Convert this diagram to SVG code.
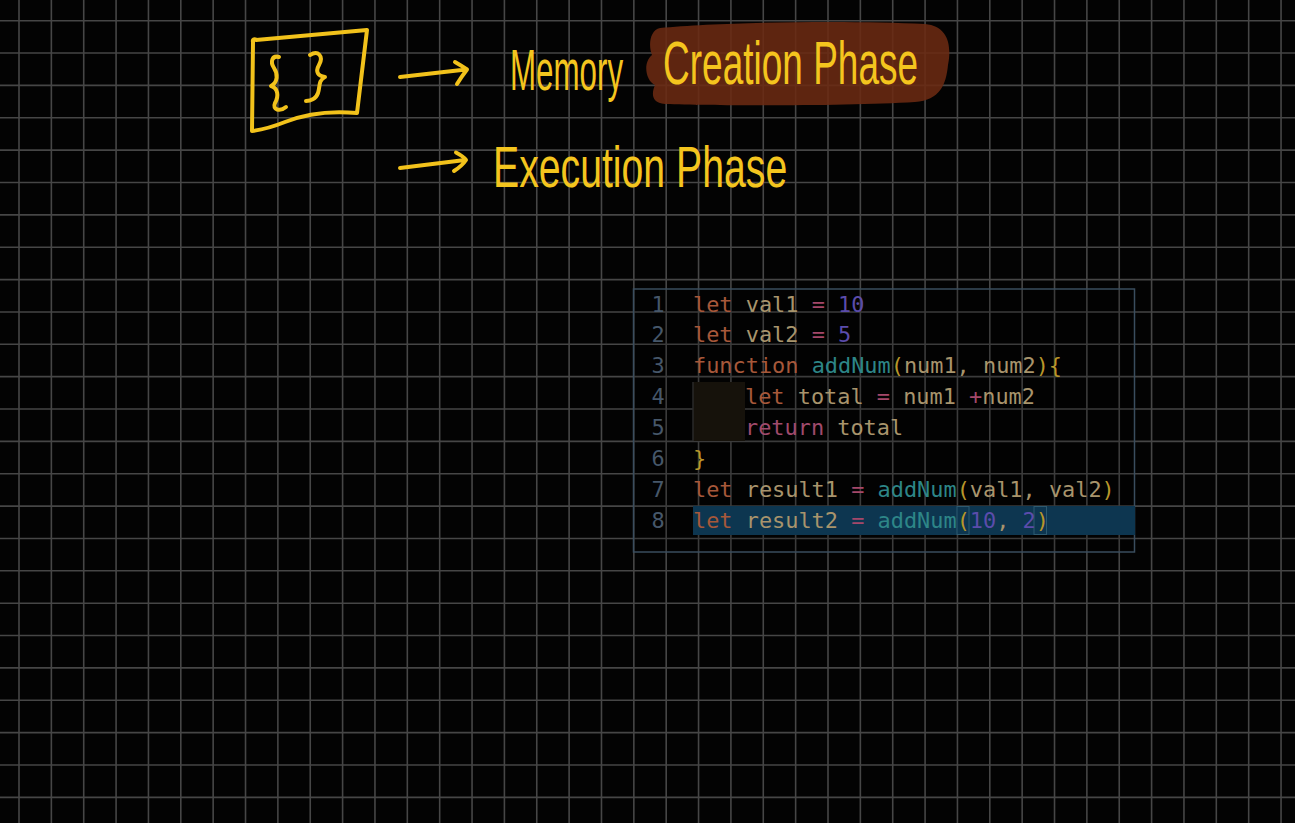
<svg xmlns="http://www.w3.org/2000/svg" width="1295" height="823" viewBox="0 0 1295 823">
<style>
.grid{stroke:#464646;stroke-width:1.6;fill:none}
.ink{stroke:#f2c21b;stroke-width:4;fill:none;stroke-linecap:round;stroke-linejoin:round}
.hand{font-family:"Liberation Sans",Arial,sans-serif;fill:#f4c51e}
.code{font-family:"DejaVu Sans Mono","Liberation Mono",monospace;font-size:21.9px;fill:#a8946c}
.ln{font-family:"DejaVu Sans Mono","Liberation Mono",monospace;font-size:21.9px;fill:#46576a;text-anchor:middle}
.kw{fill:#a6583a}
.op{fill:#a4486a}
.num{fill:#5b4cab}
.fn{fill:#2d8688}
.br{fill:#b8962a}
.ret{fill:#a04a6c}
</style>
<rect x="0" y="0" width="1295" height="823" fill="#030303"/>
<g id="grid">
<path class="grid" d="M19 0V823M51.36 0V823M83.72 0V823M116.08 0V823M148.44 0V823M180.8 0V823M213.16 0V823M245.52 0V823M277.88 0V823M310.24 0V823M342.6 0V823M374.96 0V823M407.32 0V823M439.68 0V823M472.04 0V823M504.4 0V823M536.76 0V823M569.12 0V823M601.48 0V823M633.84 0V823M666.2 0V823M698.56 0V823M730.92 0V823M763.28 0V823M795.64 0V823M828 0V823M860.36 0V823M892.72 0V823M925.08 0V823M957.44 0V823M989.8 0V823M1022.16 0V823M1054.52 0V823M1086.88 0V823M1119.24 0V823M1151.6 0V823M1183.96 0V823M1216.32 0V823M1248.68 0V823M1281.04 0V823"/>
<path class="grid" d="M0 20.7H1295M0 53.06H1295M0 85.42H1295M0 117.78H1295M0 150.14H1295M0 182.5H1295M0 214.86H1295M0 247.22H1295M0 279.58H1295M0 311.94H1295M0 344.3H1295M0 376.66H1295M0 409.02H1295M0 441.38H1295M0 473.74H1295M0 506.1H1295M0 538.46H1295M0 570.82H1295M0 603.18H1295M0 635.54H1295M0 667.9H1295M0 700.26H1295M0 732.62H1295M0 764.98H1295M0 797.34H1295"/>
</g>
<g id="scope-box">
<path class="ink" d="M256 40 L367 30 L357 113 C325 110 300 116 285 122 C270 128 260 130 252 131 L253 42 Q252 38 257 40"/>
<path class="ink" d="M279 57 C272 55 270 62 274 68 C278 74 278 82 271 86 C278 88 279 96 275 103 C272 110 280 112 286 107"/>
<path class="ink" d="M310 55 C318 50 324 56 319 65 C315 72 318 76 325 77 C318 80 320 88 318 93 C316 99 310 101 306 101"/>
</g>
<g id="connectors">
<path class="ink" d="M400 77 L466 69.5 M455 62 Q462 66 467 69.5 Q462 76 457 84"/>
<path class="ink" d="M400 168 L465 160 M456 152.5 Q463 156 466 160 Q462 166 454 171"/>
</g>
<g id="memory-creation">
<path d="M660 28 C720 22 850 20 925 24 C948 26 952 45 948 65 C946 85 940 100 915 102 C850 106 720 106 665 104 C650 103 652 92 655 85 C645 80 643 62 652 55 C648 45 650 30 660 28 Z" fill="#6b2a12" fill-opacity="0.88"/>
<text class="hand" font-size="58" transform="translate(510 90) scale(0.54 1)">Memory</text>
<text class="hand" font-size="62" transform="translate(663 84) scale(0.597 1)">Creation Phase</text>
</g>
<g id="execution">
<text class="hand" font-size="58" transform="translate(493 187) scale(0.676 1)">Execution Phase</text>
</g>
<g id="code-panel">
<rect x="633.5" y="289" width="501" height="263" fill="#000" fill-opacity="0.15" stroke="#3a4d5e" stroke-width="1.5"/>
<rect x="693" y="382" width="52" height="59" fill="#16120b"/>
<line x1="693" y1="382" x2="693" y2="441" stroke="#2a2a2a" stroke-width="1.5"/>
<rect x="693" y="506" width="442" height="29" fill="#0d3650"/>
<rect x="957" y="506.5" width="12" height="28" fill="none" stroke="#2d5a70" stroke-width="1"/>
<rect x="1034" y="506.5" width="12.5" height="28" fill="none" stroke="#2d5a70" stroke-width="1"/>
<text class="ln" x="658" y="311.5">1</text>
<text class="ln" x="658" y="342.4">2</text>
<text class="ln" x="658" y="373.3">3</text>
<text class="ln" x="658" y="404.2">4</text>
<text class="ln" x="658" y="435.1">5</text>
<text class="ln" x="658" y="466">6</text>
<text class="ln" x="658" y="496.9">7</text>
<text class="ln" x="658" y="527.8" fill="#7a8c9c">8</text>
<text class="code" x="693" y="311.5" xml:space="preserve"><tspan class="kw">let</tspan> val1 <tspan class="op">=</tspan> <tspan class="num">10</tspan></text>
<text class="code" x="693" y="342.4" xml:space="preserve"><tspan class="kw">let</tspan> val2 <tspan class="op">=</tspan> <tspan class="num">5</tspan></text>
<text class="code" x="693" y="373.3" xml:space="preserve"><tspan class="kw">function</tspan> <tspan class="fn">addNum</tspan><tspan class="br">(</tspan>num1, num2<tspan class="br">){</tspan></text>
<text class="code" x="745" y="404.2" xml:space="preserve"><tspan class="kw">let</tspan> total <tspan class="op">=</tspan> num1 <tspan class="op">+</tspan>num2</text>
<text class="code" x="745" y="435.1" xml:space="preserve"><tspan class="ret">return</tspan> total</text>
<text class="code" x="693" y="466"><tspan class="br">}</tspan></text>
<text class="code" x="693" y="496.9" xml:space="preserve"><tspan class="kw">let</tspan> result1 <tspan class="op">=</tspan> <tspan class="fn">addNum</tspan><tspan class="br">(</tspan>val1, val2<tspan class="br">)</tspan></text>
<text class="code" x="693" y="527.8" xml:space="preserve"><tspan class="kw">let</tspan> result2 <tspan class="op">=</tspan> <tspan class="fn">addNum</tspan><tspan class="br">(</tspan><tspan class="num">10</tspan>, <tspan class="num">2</tspan><tspan class="br">)</tspan></text>
</g>
</svg>
